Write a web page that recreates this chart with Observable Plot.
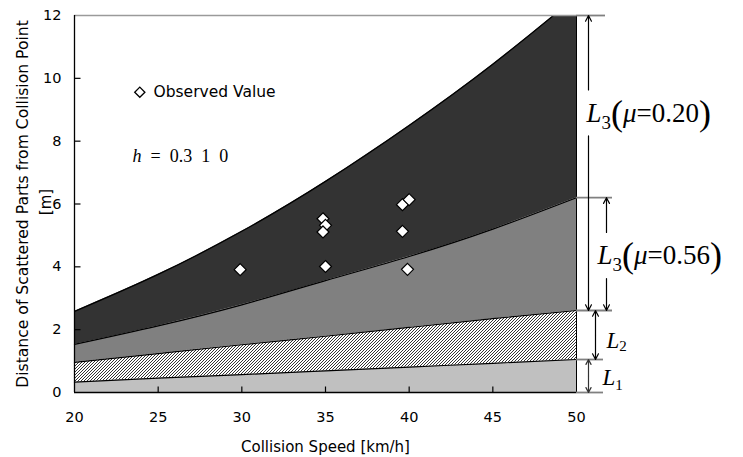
<!DOCTYPE html>
<html><head><meta charset="utf-8">
<script src="https://cdn.jsdelivr.net/npm/d3@7"></script>
<script src="https://cdn.jsdelivr.net/npm/@observablehq/plot@0.6"></script>
<style>body{margin:0;background:#fff} #chart{width:743px;height:457px}</style>
</head><body><div id="chart"></div>
<script>
// ---- data ----
const speeds   = [20, 25, 30, 35, 40, 45, 50];                  // km/h
const l1Top    = [0.33, 0.46, 0.57, 0.69, 0.81, 0.93, 1.05];   // L1
const l2Top    = [0.96, 1.24, 1.52, 1.79, 2.07, 2.35, 2.61];   // L1+L2
const mu056Top = [1.53, 2.12, 2.79, 3.56, 4.33, 5.20, 6.20];   // +L3(mu=0.56)
const mu020Top = [2.58, 3.76, 5.13, 6.72, 8.50, 10.45, 12.60]; // +L3(mu=0.20)
const obsSpeed = [29.9, 34.85, 35.0, 34.85, 35.0, 39.6, 40.0, 39.6, 39.9];
const obsDist  = [3.91, 5.53, 5.32, 5.11, 4.01, 5.98, 6.14, 5.13, 3.92];
const xTicks = [20, 25, 30, 35, 40, 45, 50];
const yTicks = [0, 2, 4, 6, 8, 10, 12];
const legendLabel = "Observed Value";
const xTitle = "Collision Speed [km/h]";
const yTitle = "Distance of Scattered Parts from Collision Point";
const yUnit = "[m]";

const rows = speeds.map((x, i) => ({x, l1: l1Top[i], l2: l2Top[i], m56: mu056Top[i], m20: mu020Top[i]}));
const obs = obsSpeed.map((x, i) => ({x, y: obsDist[i]}));
const last = a => a[a.length - 1];
const yMax = last(yTicks);

const SANS = "DejaVu Sans";
const SERIF = "Liberation Serif";
const curve = "natural";
const bandStroke = {stroke: "black", strokeWidth: 1.2, curve};
const tickUp = {draw(ctx) { ctx.moveTo(0, 0); ctx.lineTo(0, -6); }};
const tickRight = {draw(ctx) { ctx.moveTo(0, 0); ctx.lineTo(6, 0); }};
const EN = "\u2002";

const svg = Plot.plot({
  width: 743, height: 457,
  marginLeft: 74, marginRight: 167, marginTop: 15, marginBottom: 65,
  style: {fontFamily: SANS, fontSize: "14.5px", color: "black", background: "white"},
  x: {domain: [20, 50]},
  y: {domain: [0, 12]},
  marks: [
    Plot.areaY(rows, {x: "x", y1: 0, y2: "l1", fill: "#c0c0c0", curve}),
    Plot.areaY(rows, {x: "x", y1: "l1", y2: "l2", fill: "url(#hatch)", curve}),
    Plot.areaY(rows, {x: "x", y1: "l2", y2: "m56", fill: "#808080", curve}),
    Plot.areaY(rows, {x: "x", y1: "m56", y2: "m20", fill: "#333333", curve, clip: true}),
    Plot.lineY(rows, {x: "x", y: "l1", ...bandStroke}),
    Plot.lineY(rows, {x: "x", y: "l2", ...bandStroke}),
    Plot.lineY(rows, {x: "x", y: "m56", ...bandStroke}),
    Plot.lineY(rows, {x: "x", y: "m20", ...bandStroke, clip: true}),
    // frame
    Plot.ruleY([yMax], {stroke: "#9a9a9a", strokeWidth: 1.5}),
    Plot.ruleX([last(speeds)], {stroke: "black", strokeWidth: 1}),
    Plot.ruleX([speeds[0]], {stroke: "black", strokeWidth: 1.3}),
    Plot.ruleY([0], {stroke: "black", strokeWidth: 1.3}),
    // inward ticks
    Plot.dot(xTicks.slice(1, -1), {x: d => d, y: 0, symbol: tickUp, stroke: "black", strokeWidth: 1.2, fill: "none"}),
    Plot.dot(yTicks.slice(1, -1), {x: speeds[0], y: d => d, symbol: tickRight, stroke: "black", strokeWidth: 1.2, fill: "none"}),
    // tick labels
    Plot.axisX({ticks: xTicks, tickSize: 0, tickPadding: 19, label: null}),
    Plot.axisY({ticks: yTicks, tickSize: 0, tickPadding: 13, label: null}),
    Plot.text([xTitle], {frameAnchor: "bottom", dy: 55, textAnchor: "middle", lineAnchor: "middle", text: d => d, fontSize: 15}),
    Plot.text([yTitle], {frameAnchor: "left", dx: -52, rotate: -90, textAnchor: "middle", lineAnchor: "middle", text: d => d, fontSize: 15.6}),
    Plot.text([yUnit], {frameAnchor: "left", dx: -28, dy: -2, rotate: -90, textAnchor: "middle", lineAnchor: "middle", text: d => d, fontSize: 15}),
    // extension lines on the right
    Plot.ruleY([yMax], {x1: 50, x2: 50, insetRight: -29, stroke: "#808080", strokeWidth: 1.8}),
    Plot.ruleY([last(mu056Top)], {x1: 50, x2: 50, insetRight: -36, stroke: "#808080", strokeWidth: 1.8}),
    Plot.ruleY([last(l2Top)], {x1: 50, x2: 50, insetRight: -36, stroke: "#808080", strokeWidth: 1.8}),
    Plot.ruleY([last(l1Top)], {x1: 50, x2: 50, insetRight: -27, stroke: "#808080", strokeWidth: 1.8}),
    Plot.ruleY([0], {x1: 50, x2: 50, insetRight: -27, stroke: "#808080", strokeWidth: 1.8}),
    // dimension arrows
    Plot.arrow([{a: 8.9, b: yMax}, {a: 8.9, b: last(l2Top)}], {x1: 50, x2: 50, y1: "a", y2: "b", dx: 12, insetStart: 23, headLength: 8, headAngle: 55, strokeWidth: 1.2, stroke: "black"}),
    Plot.arrow([{a: 4.36, b: last(mu056Top)}, {a: 4.36, b: last(l2Top)}], {x1: 50, x2: 50, y1: "a", y2: "b", dx: 30, insetStart: 23, headLength: 8, headAngle: 55, strokeWidth: 1.2, stroke: "black"}),
    Plot.arrow([{a: (last(l2Top) + last(l1Top)) / 2, b: last(l2Top)}, {a: (last(l2Top) + last(l1Top)) / 2, b: last(l1Top)}], {x1: 50, x2: 50, y1: "a", y2: "b", dx: 19, headLength: 8, headAngle: 55, strokeWidth: 1.2, stroke: "black"}),
    Plot.arrow([{a: last(l1Top) / 2, b: last(l1Top)}, {a: last(l1Top) / 2, b: 0}], {x1: 50, x2: 50, y1: "a", y2: "b", dx: 12, headLength: 8, headAngle: 55, strokeWidth: 1.2, stroke: "#333"}),
    // right labels
    Plot.text(["L3(μ=0.20)"], {frameAnchor: "top-right", dx: 10, dy: 98, textAnchor: "start", lineAnchor: "middle", text: d => d, fontFamily: SERIF, fontSize: 27}),
    Plot.text(["L3(μ=0.56)"], {frameAnchor: "top-right", dx: 21, dy: 240, textAnchor: "start", lineAnchor: "middle", text: d => d, fontFamily: SERIF, fontSize: 27}),
    Plot.text(["L2"], {frameAnchor: "top-right", dx: 30, dy: 325, textAnchor: "start", lineAnchor: "middle", text: d => d, fontFamily: SERIF, fontSize: 23}),
    Plot.text(["L1"], {frameAnchor: "top-right", dx: 26, dy: 362, textAnchor: "start", lineAnchor: "middle", text: d => d, fontFamily: SERIF, fontSize: 23}),
    // legend + h label
    Plot.dot([0], {frameAnchor: "top-left", dx: 65.3, dy: 76.7, symbol: "diamond2", r: 4.6, fill: "white", stroke: "black", strokeWidth: 1.3}),
    Plot.text([legendLabel], {frameAnchor: "top-left", dx: 79, dy: 77, textAnchor: "start", lineAnchor: "middle", text: d => d, fontSize: 15.5}),
    Plot.text(["h = 0.3 1 0"], {frameAnchor: "top-left", dx: 58, dy: 141, textAnchor: "start", lineAnchor: "middle", text: d => d, fontFamily: SERIF, fontSize: 18}),
    // observed values
    Plot.dot(obs, {x: "x", y: "y", symbol: "diamond2", r: 5.4, fill: "white", stroke: "black", strokeWidth: 1.2})
  ]
});

// hatch pattern
const NS = "http://www.w3.org/2000/svg";
const defs = document.createElementNS(NS, "defs");
const pat = document.createElementNS(NS, "pattern");
pat.setAttribute("id", "hatch");
pat.setAttribute("patternUnits", "userSpaceOnUse");
pat.setAttribute("width", "3");
pat.setAttribute("height", "3");
const bg = document.createElementNS(NS, "rect");
bg.setAttribute("width", "3"); bg.setAttribute("height", "3"); bg.setAttribute("fill", "white");
const hp = document.createElementNS(NS, "path");
hp.setAttribute("d", "M-0.75,0.75 L0.75,-0.75 M0,3 L3,0 M2.25,3.75 L3.75,2.25");
hp.setAttribute("stroke", "black"); hp.setAttribute("stroke-width", "0.8");
pat.appendChild(bg); pat.appendChild(hp); defs.appendChild(pat);
svg.insertBefore(defs, svg.firstChild);

// rich text for the math-like labels
function rich(str, parts) {
  for (const t of svg.querySelectorAll("text")) {
    if (t.textContent !== str) continue;
    while (t.firstChild) t.removeChild(t.firstChild);
    for (const p of parts) {
      const ts = document.createElementNS(NS, "tspan");
      ts.textContent = p.t;
      if (p.i) ts.setAttribute("font-style", "italic");
      if (p.s) ts.setAttribute("font-size", p.s);
      if (p.dy) ts.setAttribute("dy", p.dy);
      t.appendChild(ts);
    }
  }
}
const L3parts = v => [
  {t: "L", i: true}, {t: "3", s: 19, dy: 7},
  {t: "(", s: 36, dy: -4}, {t: "μ", i: true, dy: -3}, {t: "=" + v}, {t: ")", s: 36, dy: 3}
];
rich("L3(μ=0.20)", L3parts("0.20"));
rich("L3(μ=0.56)", L3parts("0.56"));
rich("L2", [{t: "L", i: true}, {t: "2", s: 15, dy: 3}]);
rich("L1", [{t: "L", i: true}, {t: "1", s: 15, dy: 5}]);
rich("h = 0.3 1 0", [{t: "h", i: true}, {t: EN + "=" + EN + "0.3" + EN + "1" + EN + "0"}]);

document.getElementById("chart").appendChild(svg);
</script>
</body></html>
